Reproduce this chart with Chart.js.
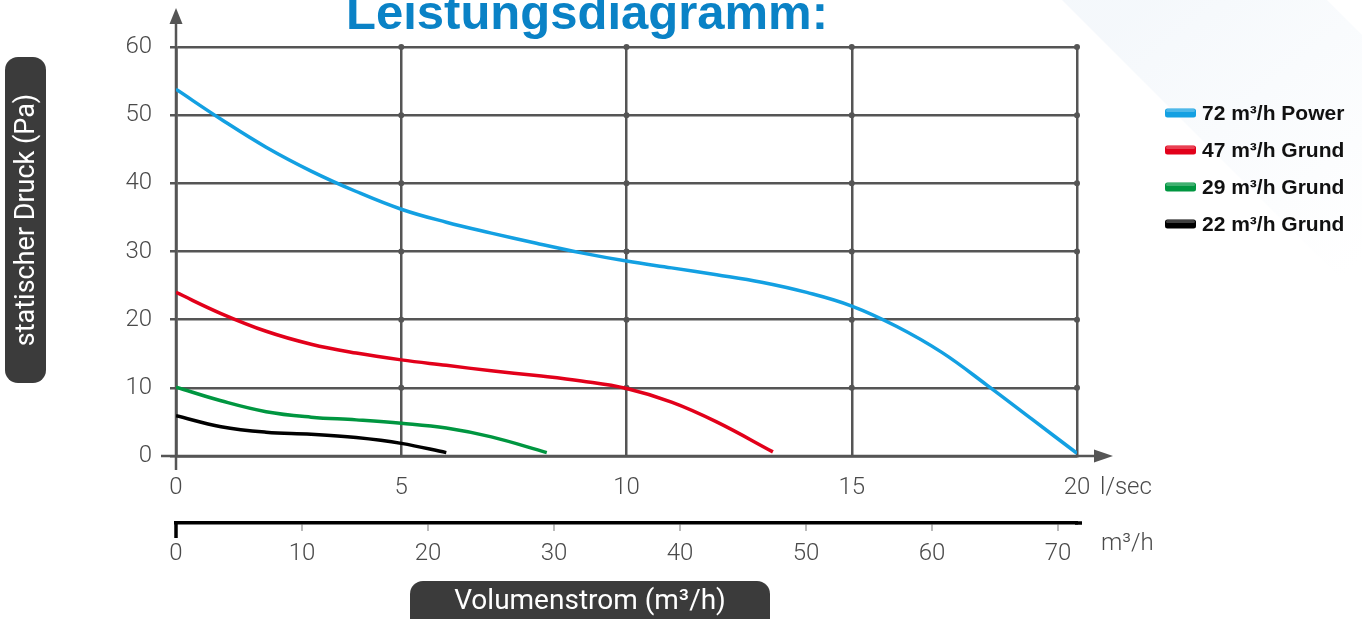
<!DOCTYPE html>
<html><head><meta charset="utf-8">
<script src="https://cdn.jsdelivr.net/npm/chart.js@4.4.1/dist/chart.umd.min.js"></script>
<style>
html,body{margin:0;padding:0;background:#fff;overflow:hidden}
canvas{display:block}
</style></head><body>
<canvas id="c" width="1362" height="619"></canvas>
<script>
// ---- data (x: l/sec, y: Pa) ----
const power72X = [0,1,2,3,4,5,6,7,8,9,10,11,12,13,14,15,16,17,18,19,20];
const power72Y = [53.8,49.4,45.3,41.8,38.8,36.2,34.3,32.7,31.2,29.8,28.6,27.6,26.6,25.5,24.0,22.0,19.0,15.2,10.4,5.4,0.4];
const grund47X = [0,1,2,3,4,5,6,7,8,9,10,11,12,13.25];
const grund47Y = [24.0,20.9,18.3,16.4,15.1,14.1,13.3,12.5,11.8,11.0,9.9,7.9,5.0,0.6];
const grund29X = [0,1,2,3,4,5,6,7,8.23];
const grund29Y = [10.1,8.1,6.5,5.7,5.3,4.8,4.1,2.8,0.5];
const grund22X = [0,1,2,3,4,5,6];
const grund22Y = [5.9,4.3,3.5,3.2,2.7,1.85,0.5];
const seriesLabels = ['72 m³/h Power','47 m³/h Grund','29 m³/h Grund','22 m³/h Grund'];
const seriesColors = ['#13a0e2','#e2001a','#009640','#000000'];
const yTicks = [0,10,20,30,40,50,60];
const xTicksLs = [0,5,10,15,20];
const xTicksM3h = [0,10,20,30,40,50,60,70];

const gridColor = '#555555';
const tickFont = {family:'Roboto', size:24, weight:'300'};
const pts = (xs, ys) => xs.map((x,i)=>({x, y: ys[i]}));

const deco = {
  id:'deco',
  beforeDraw(chart){
    const c = chart.ctx; c.save();
    c.fillStyle = '#fff'; c.fillRect(0,0,chart.width,chart.height);
    const g = c.createLinearGradient(1150,0,1362,260);
    g.addColorStop(0,'rgba(240,245,250,0.7)'); g.addColorStop(1,'rgba(240,245,250,0)');
    c.fillStyle = g;
    c.beginPath(); c.moveTo(1062,0); c.lineTo(1327,0); c.lineTo(1362,35); c.lineTo(1362,300); c.closePath(); c.fill();
    c.restore();
  },
  beforeDatasetsDraw(chart){
    const {ctx:c, scales:{x,y}} = chart;
    const x0 = x.getPixelForValue(0), y0 = y.getPixelForValue(0);
    const xE = x.getPixelForValue(20), yT = y.getPixelForValue(60);
    c.save();
    c.strokeStyle = gridColor; c.fillStyle = gridColor; c.lineWidth = 2.5;
    c.beginPath(); c.moveTo(x0, y0+14); c.lineTo(x0, yT-24); c.stroke();
    c.beginPath(); c.moveTo(x0-15, y0); c.lineTo(xE+18, y0); c.stroke();
    c.beginPath(); c.moveTo(x0, yT-39); c.lineTo(x0-6.5, yT-23); c.lineTo(x0+6.5, yT-23); c.closePath(); c.fill();
    c.beginPath(); c.moveTo(xE+36, y0); c.lineTo(xE+17, y0-6.5); c.lineTo(xE+17, y0+6.5); c.closePath(); c.fill();
    for (const xv of xTicksLs.slice(1)) for (const yv of yTicks.slice(1)) {
      c.beginPath(); c.arc(x.getPixelForValue(xv), y.getPixelForValue(yv), 3, 0, Math.PI*2); c.fill();
    }
    c.restore();
  },
  afterDraw(chart){
    const {ctx:c, scales:{x, x2}} = chart;
    c.save();
    const bx = x2.getPixelForValue(0);
    c.strokeStyle = '#000'; c.lineWidth = 3.5;
    c.beginPath(); c.moveTo(bx, x2.top); c.lineTo(bx, x2.top+15); c.stroke();
    c.beginPath(); c.moveTo(x2.right-2, x2.top); c.lineTo(x2.right+5, x2.top); c.stroke();
    // title
    c.fillStyle = '#0a82c6'; c.font = 'bold 49px "Liberation Sans", Arial, sans-serif';
    c.textAlign = 'center'; c.textBaseline = 'alphabetic';
    c.fillText('Leistungsdiagramm:', 587, 29);
    // unit labels
    c.fillStyle = '#4a4a4a'; c.font = '300 24px Roboto, sans-serif';
    c.textAlign = 'left'; c.textBaseline = 'middle';
    c.fillText('l/sec', x.right+23, x.top+32);
    c.fillText('m³/h', x.right+24, x2.top+21);
    // y pill
    c.fillStyle = '#3b3b3b';
    c.beginPath(); c.roundRect(5,57,41,326,13); c.fill();
    c.save(); c.translate(26,220); c.rotate(-Math.PI/2);
    c.fillStyle = '#fff'; c.font = '400 27px Roboto, sans-serif'; c.textAlign='center'; c.textBaseline='middle';
    c.fillText('statischer Druck (Pa)', 0, 1);
    c.restore();
    // x pill
    c.fillStyle = '#3b3b3b';
    c.beginPath(); c.roundRect(410,581,360,50,13); c.fill();
    c.fillStyle = '#fff'; c.font = '400 28px Roboto, sans-serif'; c.textAlign='center'; c.textBaseline='middle';
    c.fillText('Volumenstrom (m³/h)', 590, 602);
    // legend
    chart.data.datasets.forEach((ds,i)=>{
      const cy = 113 + i*37;
      c.fillStyle = ds.borderColor;
      c.beginPath(); c.roundRect(1165, cy-4.5, 31, 9, 2.5); c.fill();
      c.fillStyle = 'rgba(255,255,255,0.25)';
      c.beginPath(); c.roundRect(1166, cy-4, 29, 3, 1.5); c.fill();
      c.fillStyle = '#111'; c.font = 'bold 21px "Liberation Sans", Arial, sans-serif';
      c.textAlign='left'; c.textBaseline='middle';
      c.fillText(ds.label, 1202, cy+1);
    });
    c.restore();
  }
};

const series = [[power72X,power72Y],[grund47X,grund47Y],[grund29X,grund29Y],[grund22X,grund22Y]];
new Chart(document.getElementById('c'), {
  type:'line',
  data:{datasets: series.map((s,i)=>({
    label: seriesLabels[i], data: pts(s[0], s[1]),
    borderColor: seriesColors[i], backgroundColor: seriesColors[i],
    borderWidth: 3.5, pointRadius: 0, tension: 0.4, fill: false
  }))},
  options:{
    responsive:false, animation:false,
    layout:{padding:{left:0, top:47, right:285, bottom:36}},
    plugins:{legend:{display:false}, tooltip:{enabled:false}},
    scales:{
      x:{type:'linear', position:'bottom', weight:0, min:0, max:20,
         afterBuildTicks: s => { s.ticks = xTicksLs.map(v=>({value:v})); },
         ticks:{padding:18, color:'#4a4a4a', font:tickFont, maxRotation:0},
         grid:{color:gridColor, lineWidth:2.5, drawTicks:false},
         border:{color:gridColor, width:2.5},
         afterFit: s => { s.height = 67; }},
      x2:{type:'linear', position:'bottom', weight:1, min:0, max:71.5,
         afterBuildTicks: s => { s.ticks = xTicksM3h.map(v=>({value:v})); },
         ticks:{padding:9, color:'#4a4a4a', font:tickFont, maxRotation:0},
         grid:{drawOnChartArea:false, drawTicks:true, tickLength:8, color:'#bbbbbb', lineWidth:2},
         border:{color:'#000', width:3.5},
         afterFit: s => { s.height = 60; }},
      y:{type:'linear', position:'left', min:0, max:60,
         afterBuildTicks: s => { s.ticks = yTicks.map(v=>({value:v})); },
         ticks:{padding:18, color:'#4a4a4a', font:tickFont},
         grid:{color:gridColor, lineWidth:2.5, tickLength:6},
         border:{color:gridColor, width:2.5},
         afterFit: s => { s.width = 176; }}
    }
  },
  plugins:[deco]
});
</script>
</body></html>
